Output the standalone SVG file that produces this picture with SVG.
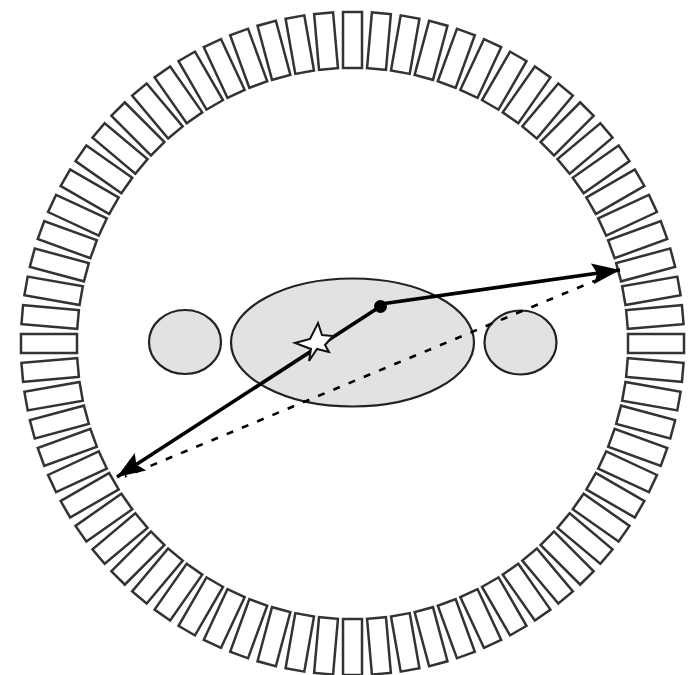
<svg xmlns="http://www.w3.org/2000/svg" width="698" height="675" viewBox="0 0 698 675">
<style>
.bd{fill:#fff;stroke:#333;stroke-width:2.5}
.b{fill:#e2e2e2;stroke:#222;stroke-width:2.2}
.ar{fill:none;stroke:#000;stroke-width:3.6}
</style>
<defs>
<rect id="s" class="bd" x="-9.5" y="-331.5" width="19" height="56"/>
<marker id="ah" markerUnits="userSpaceOnUse" markerWidth="32" markerHeight="24" refX="28" refY="12" orient="auto"><path d="M0 1.5 L28 12 L0 22.5 L5 12 Z" fill="#000"/></marker>
</defs>
<rect width="698" height="675" fill="#fff"/>
<g id="ring" transform="translate(352.5 343.5)">
<use href="#s" transform="rotate(0)"/><use href="#s" transform="rotate(5)"/><use href="#s" transform="rotate(10)"/><use href="#s" transform="rotate(15)"/><use href="#s" transform="rotate(20)"/><use href="#s" transform="rotate(25)"/><use href="#s" transform="rotate(30)"/><use href="#s" transform="rotate(35)"/><use href="#s" transform="rotate(40)"/><use href="#s" transform="rotate(45)"/><use href="#s" transform="rotate(50)"/><use href="#s" transform="rotate(55)"/><use href="#s" transform="rotate(60)"/><use href="#s" transform="rotate(65)"/><use href="#s" transform="rotate(70)"/><use href="#s" transform="rotate(75)"/><use href="#s" transform="rotate(80)"/><use href="#s" transform="rotate(85)"/><use href="#s" transform="rotate(90)"/><use href="#s" transform="rotate(95)"/><use href="#s" transform="rotate(100)"/><use href="#s" transform="rotate(105)"/><use href="#s" transform="rotate(110)"/><use href="#s" transform="rotate(115)"/><use href="#s" transform="rotate(120)"/><use href="#s" transform="rotate(125)"/><use href="#s" transform="rotate(130)"/><use href="#s" transform="rotate(135)"/><use href="#s" transform="rotate(140)"/><use href="#s" transform="rotate(145)"/><use href="#s" transform="rotate(150)"/><use href="#s" transform="rotate(155)"/><use href="#s" transform="rotate(160)"/><use href="#s" transform="rotate(165)"/><use href="#s" transform="rotate(170)"/><use href="#s" transform="rotate(175)"/><use href="#s" transform="rotate(180)"/><use href="#s" transform="rotate(185)"/><use href="#s" transform="rotate(190)"/><use href="#s" transform="rotate(195)"/><use href="#s" transform="rotate(200)"/><use href="#s" transform="rotate(205)"/><use href="#s" transform="rotate(210)"/><use href="#s" transform="rotate(215)"/><use href="#s" transform="rotate(220)"/><use href="#s" transform="rotate(225)"/><use href="#s" transform="rotate(230)"/><use href="#s" transform="rotate(235)"/><use href="#s" transform="rotate(240)"/><use href="#s" transform="rotate(245)"/><use href="#s" transform="rotate(250)"/><use href="#s" transform="rotate(255)"/><use href="#s" transform="rotate(260)"/><use href="#s" transform="rotate(265)"/><use href="#s" transform="rotate(270)"/><use href="#s" transform="rotate(275)"/><use href="#s" transform="rotate(280)"/><use href="#s" transform="rotate(285)"/><use href="#s" transform="rotate(290)"/><use href="#s" transform="rotate(295)"/><use href="#s" transform="rotate(300)"/><use href="#s" transform="rotate(305)"/><use href="#s" transform="rotate(310)"/><use href="#s" transform="rotate(315)"/><use href="#s" transform="rotate(320)"/><use href="#s" transform="rotate(325)"/><use href="#s" transform="rotate(330)"/><use href="#s" transform="rotate(335)"/><use href="#s" transform="rotate(340)"/><use href="#s" transform="rotate(345)"/><use href="#s" transform="rotate(350)"/><use href="#s" transform="rotate(355)"/>
</g>
<g id="body-left"><ellipse class="b" cx="185" cy="342" rx="36" ry="32"/></g>
<g id="body-center"><ellipse class="b" cx="352.5" cy="342.5" rx="121.5" ry="64"/></g>
<g id="body-right"><ellipse class="b" cx="520.5" cy="342.5" rx="36" ry="32"/></g>
<g id="connectors">
<path d="M125 476.5 L595 280.7" fill="none" stroke="#000" stroke-width="2.6" stroke-dasharray="7 9.5" stroke-dashoffset="5.3"/>
<path class="ar" d="M381 306 L117 477" marker-end="url(#ah)"/>
<path class="ar" d="M381 304 L620 270" marker-end="url(#ah)"/>
</g>
<g id="point"><circle cx="380.5" cy="306.5" r="6.5" fill="#000"/></g>
<g id="star"><path d="M318 323 L322 335 L333 336 L325 345 L329 352 L317 349 L309 361 L311 349 L295 343 L310 339 Z" fill="#fff" stroke="#111" stroke-width="2"/></g>
</svg>
